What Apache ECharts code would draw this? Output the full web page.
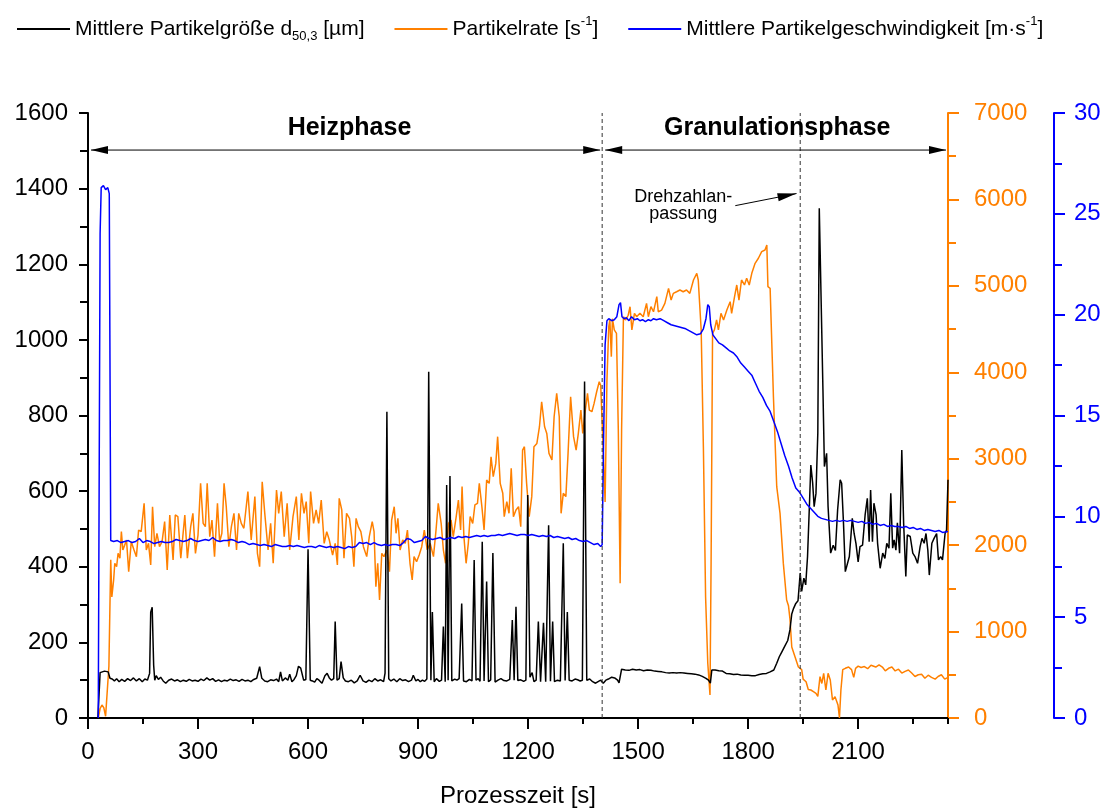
<!DOCTYPE html>
<html><head><meta charset="utf-8">
<script src="https://cdn.jsdelivr.net/npm/echarts@6/dist/echarts.min.js"></script>
<style>html,body{margin:0;padding:0;background:#fff}#c{width:1109px;height:809px}</style>
</head><body><div id="c"></div>
<script>
// ---------- DATA ----------
const seriesNames = ['Mittlere Partikelgröße d50,3 [µm]', 'Partikelrate [s-1]', 'Mittlere Partikelgeschwindigkeit [m·s-1]'];
const xTicks = [0, 300, 600, 900, 1200, 1500, 1800, 2100];
const leftTicks = [0, 200, 400, 600, 800, 1000, 1200, 1400, 1600];
const rateTicks = [0, 1000, 2000, 3000, 4000, 5000, 6000, 7000];
const speedTicks = [0, 5, 10, 15, 20, 25, 30];

// Mittlere Partikelgröße [µm]  [t, value]
const sizeData = [[27,0],[33,120],[45,124],[55,122],[60,105],[66,103],[72,98],[78,104],[85,96],[92,102],[100,97],[108,104],[116,99],[124,106],[132,98],[140,104],[148,96],[155,103],[162,100],[168,118],[171,280],[175,293],[179,140],[182,100],[186,112],[192,102],[198,108],[205,98],[212,92],[220,100],[228,103],[236,98],[244,101],[252,96],[260,100],[268,97],[276,102],[284,98],[292,100],[300,97],[308,103],[316,99],[324,106],[332,100],[340,104],[348,97],[356,101],[364,96],[372,100],[380,98],[388,103],[396,99],[404,101],[412,97],[420,102],[428,98],[436,100],[444,96],[452,102],[460,105],[468,136],[474,105],[482,98],[490,96],[498,101],[506,99],[514,103],[520,96],[525,122],[530,98],[538,106],[545,100],[550,116],[556,96],[562,102],[568,112],[574,137],[580,132],[588,100],[594,102],[600,446],[606,100],[612,98],[618,95],[624,104],[630,100],[638,92],[646,112],[652,118],[658,106],[664,100],[670,104],[674,255],[679,100],[685,104],[690,149],[696,106],[702,98],[710,96],[718,100],[726,93],[734,98],[742,113],[750,98],[758,94],[766,100],[774,96],[782,104],[790,98],[798,101],[806,96],[810,119],[815,810],[820,104],[826,98],[834,103],[842,96],[850,104],[858,99],[866,101],[874,96],[882,100],[887,113],[894,98],[900,102],[906,96],[912,100],[918,97],[924,103],[929,916],[935,100],[939,280],[944,96],[950,104],[958,97],[964,100],[969,242],[974,96],[978,616],[982,100],[987,640],[992,98],[1000,103],[1006,100],[1012,104],[1019,303],[1024,98],[1032,96],[1040,102],[1047,98],[1053,418],[1058,100],[1064,104],[1069,97],[1075,466],[1080,98],[1087,361],[1092,96],[1098,101],[1104,436],[1110,95],[1118,100],[1126,104],[1134,99],[1142,98],[1150,102],[1157,259],[1162,100],[1167,294],[1172,99],[1180,101],[1188,97],[1194,100],[1199,590],[1205,108],[1211,120],[1216,96],[1222,100],[1228,255],[1234,96],[1242,252],[1248,96],[1256,510],[1261,97],[1267,255],[1272,96],[1280,100],[1288,98],[1296,462],[1301,99],[1307,280],[1312,100],[1320,98],[1328,103],[1335,101],[1342,98],[1348,100],[1354,890],[1360,100],[1368,103],[1376,96],[1384,92],[1392,97],[1398,100],[1405,92],[1412,100],[1419,103],[1428,108],[1436,106],[1444,100],[1448,93],[1455,129],[1465,127],[1475,126],[1485,129],[1495,127],[1505,128],[1515,125],[1525,127],[1535,126],[1545,124],[1555,123],[1565,122],[1575,120],[1585,119],[1595,120],[1605,119],[1615,120],[1625,119],[1635,118],[1645,117],[1655,116],[1665,114],[1675,110],[1685,105],[1692,100],[1697,92],[1701,127],[1710,127],[1720,125],[1730,124],[1740,118],[1750,117],[1760,115],[1770,116],[1780,114],[1790,113],[1800,113],[1810,112],[1820,112],[1830,115],[1840,117],[1850,118],[1860,122],[1870,127],[1878,145],[1885,162],[1892,175],[1900,190],[1908,205],[1914,233],[1919,275],[1924,290],[1930,303],[1936,310],[1942,383],[1946,335],[1952,370],[1957,352],[1962,427],[1967,559],[1971,669],[1976,621],[1980,559],[1985,594],[1990,753],[1994,1348],[1998,1346],[2004,868],[2008,665],[2014,700],[2018,559],[2025,436],[2032,457],[2038,443],[2044,550],[2051,630],[2055,621],[2060,516],[2065,387],[2070,391],[2076,427],[2084,528],[2089,488],[2094,462],[2100,413],[2105,453],[2112,457],[2119,537],[2125,581],[2130,466],[2134,603],[2139,466],[2143,568],[2149,537],[2153,462],[2160,396],[2167,436],[2173,422],[2178,462],[2184,449],[2189,594],[2194,449],[2198,471],[2203,444],[2207,516],[2213,436],[2219,709],[2224,516],[2230,374],[2234,484],[2242,480],[2249,436],[2255,427],[2262,409],[2269,453],[2274,475],[2280,462],[2285,488],[2290,444],[2294,378],[2301,462],[2307,475],[2314,488],[2319,418],[2325,427],[2330,418],[2337,488],[2341,497],[2345,630]];

// Partikelrate [1/s]
const rateData = [[28,0],[33,110],[38,150],[43,120],[48,20],[53,0],[57,600],[62,1830],[65,1400],[70,1600],[73,1790],[78,1750],[82,1905],[87,1850],[91,2156],[95,1944],[100,2000],[105,2059],[111,1693],[118,2040],[125,1950],[132,1867],[138,2175],[145,2156],[153,2484],[159,1944],[165,2021],[171,1770],[176,2445],[182,1982],[188,2137],[195,1982],[202,2040],[209,2272],[216,1712],[223,2349],[232,1828],[238,2349],[245,2330],[253,1848],[264,2349],[271,1848],[280,2214],[286,2368],[293,1905],[300,2117],[307,2715],[314,2252],[320,2214],[325,2715],[332,2098],[338,2290],[345,1867],[353,2484],[359,2040],[365,2137],[371,2715],[377,2445],[384,1982],[391,2214],[398,2368],[405,1944],[411,2368],[418,2252],[425,2195],[436,2619],[445,2059],[455,2561],[462,1905],[468,1751],[475,2734],[482,2368],[491,1944],[498,2252],[505,1790],[514,2638],[520,2368],[527,2619],[535,2098],[543,2484],[550,1944],[559,2330],[568,2561],[575,2059],[582,2600],[589,2368],[595,2503],[602,2021],[607,2619],[615,2252],[622,2407],[629,2252],[636,2522],[644,2021],[651,2156],[658,2059],[667,1886],[674,2021],[680,1770],[685,2542],[692,2407],[698,1848],[705,2368],[713,2310],[719,2098],[725,1751],[731,2310],[737,2214],[744,2156],[751,1982],[760,1867],[767,2098],[775,2272],[780,2156],[785,1520],[790,1790],[795,1366],[801,1905],[807,1867],[815,1944],[822,1693],[828,2291],[835,2445],[840,2137],[845,2310],[851,1944],[858,2059],[865,2021],[871,2175],[878,1790],[884,1597],[889,1867],[896,1809],[903,1886],[910,1982],[917,2175],[925,1944],[933,2021],[942,1867],[949,2175],[955,2484],[963,2252],[969,1944],[975,1790],[983,2252],[990,2291],[996,2098],[1004,2330],[1010,2522],[1016,2175],[1020,2677],[1025,2098],[1031,1790],[1037,2021],[1042,2330],[1049,2252],[1055,2465],[1062,2484],[1067,2715],[1074,2445],[1080,2175],[1087,2754],[1094,2715],[1099,3023],[1105,2792],[1112,2946],[1117,3255],[1124,2715],[1131,2600],[1135,2330],[1142,2503],[1148,2368],[1154,2889],[1160,2330],[1167,2407],[1174,2445],[1180,2214],[1185,3100],[1190,3139],[1196,2715],[1203,2330],[1210,2561],[1216,3139],[1224,3177],[1231,3370],[1237,3659],[1245,3370],[1251,3293],[1257,3062],[1265,2985],[1271,3486],[1278,3756],[1285,3486],[1290,2368],[1296,2600],[1303,2561],[1309,3062],[1316,3717],[1324,3255],[1331,3100],[1337,3293],[1344,3563],[1349,3293],[1355,3524],[1362,3756],[1367,3563],[1374,3544],[1380,3640],[1387,3775],[1394,3891],[1398,3850],[1403,3833],[1406,2985],[1410,2500],[1415,3900],[1420,4528],[1423,4605],[1427,4181],[1430,4620],[1435,4490],[1441,4450],[1446,3335],[1451,1558],[1455,3335],[1460,4643],[1466,4605],[1473,4660],[1478,4759],[1483,4490],[1490,4682],[1496,4643],[1505,4682],[1514,4643],[1523,4797],[1528,4643],[1535,4759],[1542,4700],[1551,4875],[1555,4700],[1564,4720],[1573,4797],[1583,4971],[1590,4836],[1596,4913],[1605,4932],[1614,4952],[1623,4932],[1632,4952],[1641,4913],[1651,5068],[1660,5145],[1664,5068],[1672,4490],[1678,3139],[1684,1404],[1690,633],[1696,266],[1699,1789],[1703,4450],[1708,4490],[1714,4605],[1719,4490],[1726,4682],[1733,4605],[1742,4720],[1751,4817],[1755,4682],[1763,4875],[1769,5010],[1775,4836],[1782,5068],[1790,5010],[1796,5087],[1803,5010],[1810,5145],[1819,5261],[1828,5319],[1837,5396],[1846,5415],[1851,5473],[1854,4990],[1860,4971],[1869,3718],[1878,2676],[1887,2368],[1896,1789],[1905,1365],[1910,1300],[1914,1150],[1919,822],[1928,706],[1937,590],[1946,560],[1950,450],[1958,420],[1964,330],[1971,324],[1978,305],[1985,286],[1990,250],[1996,478],[2001,400],[2006,517],[2012,324],[2018,517],[2024,440],[2030,208],[2037,247],[2045,150],[2049,0],[2053,324],[2058,560],[2065,575],[2074,590],[2082,560],[2088,470],[2093,575],[2100,600],[2108,585],[2117,595],[2126,570],[2135,610],[2148,590],[2157,615],[2166,590],[2174,545],[2183,575],[2192,590],[2201,545],[2210,565],[2219,520],[2228,540],[2237,555],[2246,520],[2255,480],[2264,500],[2273,505],[2282,460],[2291,495],[2300,470],[2310,450],[2318,480],[2327,500],[2336,450],[2345,470]];

// Mittlere Partikelgeschwindigkeit [m/s]
const speedData = [[28,0],[33,24],[36,26.3],[42,26.4],[48,26.2],[54,26.3],[58,26.0],[62,8.8],[70,8.75],[80,8.8],[90,8.7],[100,8.75],[110,8.8],[120,8.7],[130,8.75],[140,8.9],[150,8.7],[160,8.8],[170,8.75],[180,8.65],[190,8.7],[200,8.75],[210,8.7],[220,8.7],[230,8.75],[240,8.85],[250,8.8],[260,8.75],[270,8.8],[280,8.9],[290,8.8],[300,8.75],[310,8.8],[320,8.85],[330,8.8],[340,8.95],[350,8.8],[360,8.75],[370,8.8],[380,8.8],[390,8.85],[400,8.8],[410,8.7],[420,8.75],[430,8.7],[440,8.6],[450,8.65],[460,8.6],[470,8.55],[480,8.6],[490,8.55],[500,8.5],[510,8.6],[520,8.55],[530,8.5],[540,8.5],[550,8.55],[560,8.5],[570,8.55],[580,8.5],[590,8.45],[600,8.5],[610,8.5],[620,8.45],[630,8.55],[640,8.5],[650,8.45],[660,8.5],[670,8.45],[680,8.5],[690,8.45],[700,8.4],[710,8.5],[720,8.45],[730,8.5],[740,8.7],[750,8.65],[760,8.7],[770,8.6],[780,8.7],[790,8.6],[800,8.55],[810,8.6],[820,8.55],[830,8.6],[840,8.6],[850,8.55],[860,8.7],[870,8.9],[880,8.85],[890,8.7],[900,8.75],[910,8.8],[920,9.0],[930,8.9],[940,8.85],[950,8.9],[960,8.95],[970,8.85],[980,8.9],[990,8.95],[1000,8.9],[1010,9.0],[1020,8.95],[1030,9.0],[1040,8.95],[1050,9.0],[1060,9.05],[1070,9.0],[1080,9.05],[1090,9.0],[1100,9.05],[1110,9.05],[1120,9.1],[1130,9.05],[1140,9.1],[1150,9.15],[1160,9.1],[1170,9.05],[1180,9.1],[1190,9.1],[1200,9.05],[1210,9.1],[1220,9.05],[1230,9.0],[1240,9.05],[1250,9.0],[1260,9.05],[1270,8.95],[1280,9.0],[1290,8.95],[1300,8.9],[1310,8.95],[1320,8.85],[1330,8.9],[1340,8.8],[1350,8.75],[1360,8.8],[1370,8.7],[1380,8.6],[1390,8.65],[1398,8.5],[1402,8.6],[1406,14],[1410,18.5],[1415,19.7],[1420,19.8],[1428,19.7],[1435,19.75],[1442,19.9],[1448,20.5],[1452,20.6],[1456,19.9],[1462,19.8],[1468,19.85],[1475,19.7],[1482,19.9],[1490,19.75],[1498,19.8],[1505,19.7],[1512,19.75],[1520,19.65],[1528,19.75],[1535,19.7],[1542,19.8],[1550,19.75],[1560,19.8],[1570,19.7],[1580,19.6],[1590,19.5],[1600,19.45],[1610,19.4],[1620,19.35],[1630,19.3],[1640,19.2],[1650,19.1],[1660,19.0],[1670,19.05],[1678,19.3],[1685,19.8],[1690,20.5],[1694,20.4],[1698,19.5],[1704,19.0],[1712,18.8],[1720,18.6],[1730,18.5],[1740,18.35],[1750,18.2],[1760,18.1],[1770,17.9],[1780,17.6],[1790,17.4],[1800,17.2],[1810,17.0],[1820,16.6],[1830,16.2],[1840,15.9],[1850,15.5],[1860,15.2],[1870,14.7],[1880,14.2],[1890,13.6],[1900,13.0],[1910,12.5],[1920,11.9],[1930,11.4],[1940,11.2],[1950,10.9],[1960,10.6],[1970,10.4],[1980,10.2],[1990,10.0],[2000,9.9],[2010,9.85],[2020,9.8],[2030,9.75],[2040,9.8],[2050,9.75],[2060,9.8],[2070,9.75],[2080,9.8],[2090,9.75],[2100,9.7],[2110,9.75],[2120,9.65],[2130,9.7],[2140,9.6],[2150,9.65],[2160,9.55],[2170,9.6],[2180,9.5],[2190,9.55],[2200,9.5],[2210,9.5],[2220,9.45],[2230,9.5],[2240,9.4],[2250,9.45],[2260,9.35],[2270,9.4],[2280,9.3],[2290,9.35],[2300,9.3],[2310,9.25],[2320,9.3],[2330,9.2],[2345,9.25]];

// Annotations (data coordinates)
const phaseLabels = ['Heizphase', 'Granulationsphase'];
const phaseBounds = [0, 1402, 2345];
const speedChangeT = 1942;
const noteLines = ['Drehzahlan-', 'passung'];

// ---------- CHART ----------
const FONT = '"Liberation Sans", Arial, Helvetica, sans-serif';
const BLACK = '#000000', ORANGE = '#FF8000', BLUE = '#0000FF';
const legendRich = {};
legendRich[seriesNames[0]] = '{n|Mittlere Partikelgröße d}{sub|50,3}{n| [µm]}';
legendRich[seriesNames[1]] = '{n|Partikelrate [s}{sup|-1}{n|]}';
legendRich[seriesNames[2]] = '{n|Mittlere Partikelgeschwindigkeit [m·s}{sup|-1}{n|]}';
const plain = v => String(v);

const chart = echarts.init(document.getElementById('c'), null, {renderer: 'canvas'});
const tickStyle = (c) => ({show: true, inside: false, length: 11, lineStyle: {color: c, width: 2}});
const option = {
  animation: false,
  backgroundColor: '#ffffff',
  textStyle: {fontFamily: FONT},
  legend: {
    top: 10, left: 12, itemWidth: 53, itemHeight: 2, icon: 'rect', itemGap: 30,
    data: seriesNames,
    formatter: n => legendRich[n],
    textStyle: {
      color: BLACK, fontSize: 21, fontFamily: FONT,
      rich: {
        n: {fontSize: 21, lineHeight: 28, fontFamily: FONT, color: BLACK},
        sub: {fontSize: 13, lineHeight: 15, verticalAlign: 'bottom', fontFamily: FONT, color: BLACK},
        sup: {fontSize: 13, lineHeight: 15, verticalAlign: 'top', fontFamily: FONT, color: BLACK}
      }
    }
  },
  grid: {left: 88, right: 161, top: 113, bottom: 91, outerBoundsMode: 'none', containLabel: false},
  xAxis: [{
    type: 'value', min: xTicks[0], max: phaseBounds[2], interval: xTicks[1] - xTicks[0],
    name: 'Prozesszeit [s]', nameLocation: 'middle', nameGap: 66,
    nameTextStyle: {fontSize: 24, color: BLACK, fontFamily: FONT},
    axisLine: {show: true, onZero: false, lineStyle: {color: BLACK, width: 2}},
    axisTick: {show: true, inside: false, length: 11, lineStyle: {color: BLACK, width: 2}},
    axisLabel: {show: true, fontSize: 24, color: BLACK, margin: 22, fontFamily: FONT, showMaxLabel: false,
      formatter: v => (xTicks.indexOf(v) >= 0 ? String(v) : '')},
    splitLine: {show: false}
  }, {
    type: 'value', min: xTicks[0], max: phaseBounds[2], interval: (xTicks[1] - xTicks[0]) / 2,
    position: 'bottom', gridIndex: 0,
    axisLine: {show: false}, axisLabel: {show: false}, splitLine: {show: false},
    axisTick: {show: true, inside: false, length: 6, lineStyle: {color: BLACK, width: 2}}
  }],
  yAxis: [{
    type: 'value', min: leftTicks[0], max: leftTicks[leftTicks.length - 1], interval: leftTicks[1] - leftTicks[0],
    position: 'left',
    axisLine: {show: true, onZero: false, lineStyle: {color: BLACK, width: 2}},
    axisTick: {show: true, inside: false, length: 9, lineStyle: {color: BLACK, width: 2}},
    minorTick: {show: true, splitNumber: 2, length: 8, lineStyle: {color: BLACK, width: 2}},
    axisLabel: {fontSize: 24, color: BLACK, margin: 20, fontFamily: FONT, formatter: plain},
    splitLine: {show: false}, minorSplitLine: {show: false}
  }, {
    type: 'value', min: rateTicks[0], max: rateTicks[rateTicks.length - 1], interval: rateTicks[1] - rateTicks[0],
    position: 'right', offset: 0,
    axisLine: {show: true, onZero: false, lineStyle: {color: ORANGE, width: 2}},
    axisTick: tickStyle(ORANGE),
    minorTick: {show: true, splitNumber: 2, length: 8, lineStyle: {color: ORANGE, width: 2}},
    axisLabel: {fontSize: 24, color: ORANGE, margin: 26, fontFamily: FONT, formatter: plain},
    splitLine: {show: false}, minorSplitLine: {show: false}
  }, {
    type: 'value', min: speedTicks[0], max: speedTicks[speedTicks.length - 1], interval: speedTicks[1] - speedTicks[0],
    position: 'right', offset: 106,
    axisLine: {show: true, onZero: false, lineStyle: {color: BLUE, width: 2}},
    axisTick: tickStyle(BLUE),
    minorTick: {show: true, splitNumber: 2, length: 8, lineStyle: {color: BLUE, width: 2}},
    axisLabel: {fontSize: 24, color: BLUE, margin: 20, fontFamily: FONT, formatter: plain},
    splitLine: {show: false}, minorSplitLine: {show: false}
  }],
  series: [{
    name: seriesNames[0], type: 'line', xAxisIndex: 0, yAxisIndex: 0, data: sizeData,
    showSymbol: false, symbol: 'none', color: BLACK, lineStyle: {color: BLACK, width: 1.5}, z: 3
  }, {
    name: seriesNames[1], type: 'line', xAxisIndex: 0, yAxisIndex: 1, data: rateData,
    showSymbol: false, symbol: 'none', color: ORANGE, lineStyle: {color: ORANGE, width: 1.5}, z: 2
  }, {
    name: seriesNames[2], type: 'line', xAxisIndex: 0, yAxisIndex: 2, data: speedData,
    showSymbol: false, symbol: 'none', color: BLUE, lineStyle: {color: BLUE, width: 1.5}, z: 4
  }]
};
chart.setOption(option);

// ---------- ANNOTATIONS ----------
const P = (t, v) => chart.convertToPixel({xAxisIndex: 0, yAxisIndex: 0}, [t, v]);
const g = [];
function seg(a, b, extra) {
  g.push({type: 'line', z: 50, silent: true,
    shape: {x1: a[0], y1: a[1], x2: b[0], y2: b[1]},
    style: Object.assign({stroke: BLACK, lineWidth: 1}, extra || {})});
}
function head(tip, from, len, half) {
  const dx = tip[0] - from[0], dy = tip[1] - from[1];
  const L = Math.hypot(dx, dy), ux = dx / L, uy = dy / L;
  const bx = tip[0] - ux * len, by = tip[1] - uy * len;
  g.push({type: 'polygon', z: 51, silent: true,
    shape: {points: [[tip[0], tip[1]], [bx - uy * half, by + ux * half], [bx + uy * half, by - ux * half]]},
    style: {fill: BLACK}});
}
function txt(p, s, font) {
  g.push({type: 'text', z: 52, silent: true, x: p[0], y: p[1],
    style: {text: s, font: font, fill: BLACK, align: 'center', verticalAlign: 'middle',
      textAlign: 'center', textVerticalAlign: 'middle'}});
}
// dashed phase boundaries
[phaseBounds[1], speedChangeT].forEach(t => {
  seg(P(t, leftTicks[0]), P(t, leftTicks[leftTicks.length - 1]), {lineDash: [4, 3], stroke: '#333'});
});
// double arrows
const arrowV = 1502;
for (let i = 0; i < 2; i++) {
  const a = P(phaseBounds[i], arrowV), b = P(phaseBounds[i + 1], arrowV);
  a[0] += 3; b[0] -= 2;
  seg(a, b, {lineWidth: 1});
  head(a, b, 17, 4);
  head(b, a, 17, 4);
  const c = P((phaseBounds[i] + phaseBounds[i + 1]) / 2 + (i === 1 ? 6 : 12), 1560);
  txt(c, phaseLabels[i], 'bold 25px ' + FONT);
}
// Drehzahlanpassung note
txt(P(1623, 1378), noteLines[0], '18px ' + FONT);
txt(P(1623, 1333), noteLines[1], '18px ' + FONT);
const nFrom = P(1765, 1355), nTo = P(1932, 1387);
seg(nFrom, nTo, {lineWidth: 1});
head(nTo, nFrom, 19, 4);

chart.setOption({graphic: {elements: g}});
</script>
</body></html>
